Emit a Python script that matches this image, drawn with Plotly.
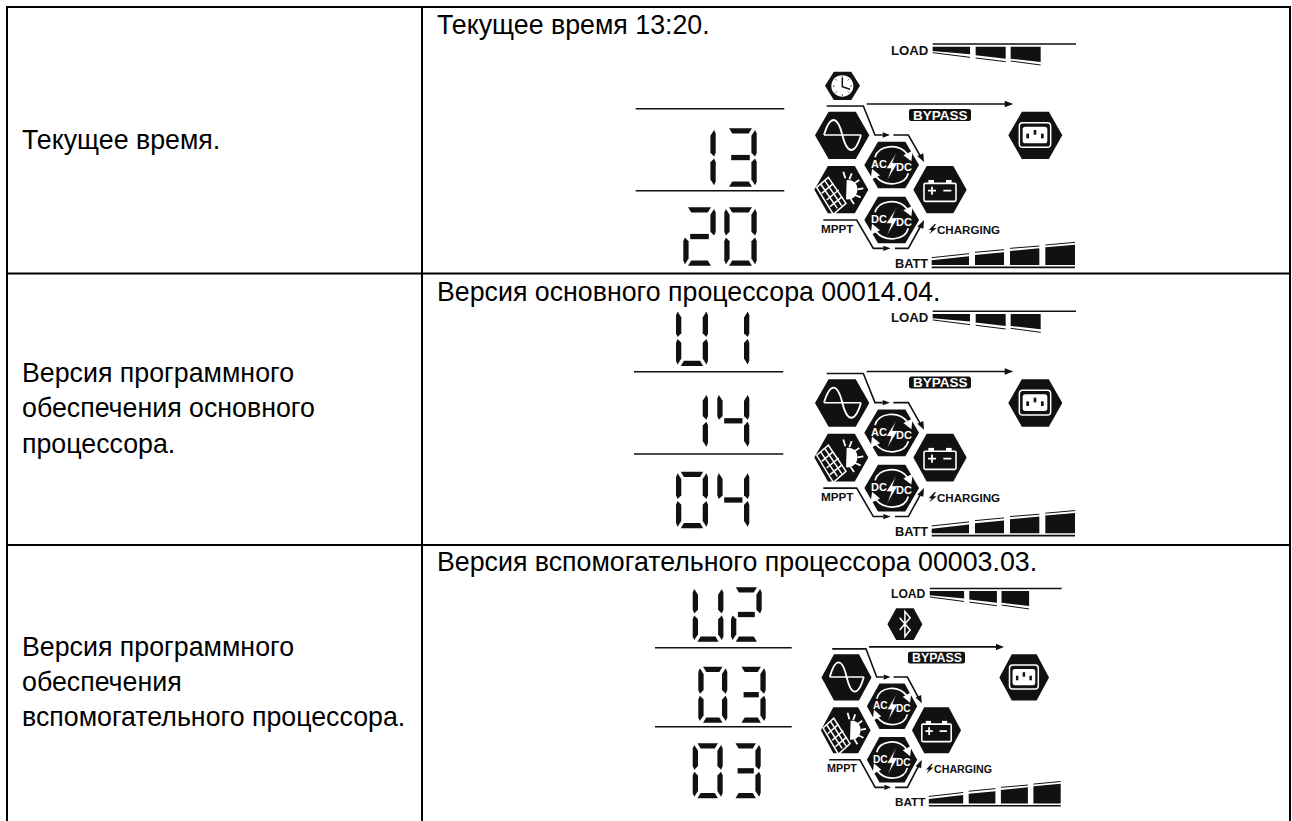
import re
import plotly.graph_objects as go

# ---- content ----
LEFT_CELLS = [
    ["Текущее время."],
    ["Версия программного", "обеспечения основного", "процессора."],
    ["Версия программного", "обеспечения", "вспомогательного процессора."],
]
RIGHT_CELLS = [
    "Текущее время 13:20.",
    "Версия основного процессора 00014.04.",
    "Версия вспомогательного процессора 00003.03.",
]
READOUTS = [
    ["", "13", "20"],
    ["U1", "14", "04"],
    ["U2", "03", "03"],
]
LABELS_LOAD = "LOAD"
LABELS_BATT = "BATT"
LABEL_BYPASS = "BYPASS"
LABEL_MPPT = "MPPT"
LABEL_CHARGING = "CHARGING"

# ---- layout constants (pixels) ----
W, H = 1292, 821
TX0, TX1, TX2 = 7, 422, 1290
TY = [7, 273.5, 545]
LEFT_BASE = [[148], [381, 416.5, 452], [655, 690, 725]]
RIGHT_BASE = [33, 300, 570]
FONT = "Liberation Sans, Arial, sans-serif"
CELL_SIZE = 26.75

# panel transforms: px = ax + sx*u/3, py = ay + sy*v/3
XF = [(600, 1, 0, 1), (600, 1, 267, 1.005), (623.7, 0.92, 545.7, 0.973)]
# digit rows: (y, h, [x of first box, x of second box], w)
DIGITS = [
    [None, (128.3, 58.5, [683.3, 724.3], 32.4), (207.3, 58.5, [683.3, 724.3], 32.4)],
    [(310, 56, [676, 717.3], 32), (393.3, 55, [676, 717.3], 32), (471.7, 56.6, [676, 717.3], 32)],
    [(587.3, 54.4, [692.7, 731], 30.7), (666.7, 56, [698.3, 736.7], 29), (743.3, 55, [692.7, 730.7], 30)],
]
RULES = [
    (635.7, 784.3, [108.7, 190.7]),
    (634, 783.3, [371.7, 454]),
    (655, 791.7, [647.7, 726.7]),
]

fig = go.Figure()
shapes = []
ann = []


def add_path(d, fill=None, line=None, lw=0):
    s = dict(type="path", path=d, xref="x", yref="y", layer="above",
             line=dict(color=line or "rgba(0,0,0,0)", width=lw))
    if fill:
        s["fillcolor"] = fill
    shapes.append(s)


def text(x, y, t, size, color="#000", bold=False, anchor="left", family=FONT):
    ann.append(dict(x=x, y=y, xref="x", yref="y", text=f"<b>{t}</b>" if bold else t,
                    showarrow=False, xanchor=anchor, yanchor="middle",
                    font=dict(family=family, size=size, color=color),
                    borderpad=0, borderwidth=0))


def mapper(xf):
    ax, sx, ay, sy = xf

    def m(d):
        vals = iter(re.findall(r"[A-Za-z]|-?\d+\.?\d*", d))
        out = []
        for tok in vals:
            if tok.isalpha():
                out.append(tok)
            else:
                y = next(vals)
                out.append(f"{ax + sx * float(tok) / 3:.2f},{ay + sy * float(y) / 3:.2f}")
        return " ".join(out)

    def pt(u, v):
        return ax + sx * u / 3, ay + sy * v / 3

    return m, pt


def hexpath(x0, x1, y0, y1):
    c = (x1 - x0) * 0.25
    ym = (y0 + y1) / 2
    return f"M{x0} {ym} L{x0 + c} {y0} L{x1 - c} {y0} L{x1} {ym} L{x1 - c} {y1} L{x0 + c} {y1} Z"


def converter(m, pt, dv, first, second, k):
    add_path(m(hexpath(793, 957, 425 + dv, 565 + dv)), fill="#111")
    # curved arrows
    add_path(m(f"M825 {472 + dv} C835 {435 + dv} 895 {428 + dv} 922 {462 + dv}"), line="#fff", lw=1.7)
    add_path(m(f"M934 {484 + dv} L910 {466 + dv} L938 {452 + dv} Z"), fill="#fff")
    add_path(m(f"M925 {520 + dv} C915 {558 + dv} 855 {562 + dv} 828 {530 + dv}"), line="#fff", lw=1.7)
    add_path(m(f"M816 {506 + dv} L840 {526 + dv} L812 {540 + dv} Z"), fill="#fff")
    # bolt
    add_path(m(f"M890 {456 + dv} L858 {506 + dv} L873 {506 + dv} L860 {544 + dv} L894 {488 + dv} L878 {488 + dv} Z"),
             fill="#fff", line="#111", lw=0.8)
    x, y = pt(837, 493 + dv)
    text(x, y, first, 11 * k, "#fff", True, "center")
    x, y = pt(913, 502 + dv)
    text(x, y, second, 11 * k, "#fff", True, "center")


def draw_panel(i):
    m, pt = mapper(XF[i])
    k = XF[i][1]
    ink = "#111"
    lw = 1.6
    # LOAD meter
    add_path(m("M998 132 L1428 132"), line=ink, lw=lw)
    add_path(m("M998 140 L1110 140 L1110 163 L998 153 Z"), fill=ink)
    add_path(m("M1127 140 L1217 140 L1217 176 L1127 166 Z"), fill=ink)
    add_path(m("M1232 140 L1322 140 L1322 186 L1232 176 Z"), fill=ink)
    add_path(m("M998 158 L1110 172"), line=ink, lw=1)
    add_path(m("M1127 174 L1217 185"), line=ink, lw=1)
    add_path(m("M1232 183 L1322 195"), line=ink, lw=1)
    x, y = pt(929, 150)
    text(x, y, LABELS_LOAD, 13.2 * k, ink, True, "center")
    # BATT meter
    add_path(m("M995 802 L1425 802"), line=ink, lw=lw)
    add_path(m("M995 781 L1107 769 L1107 795 L995 795 Z"), fill=ink)
    add_path(m("M1125 765 L1212 757 L1212 795 L1125 795 Z"), fill=ink)
    add_path(m("M1230 753 L1318 745 L1318 795 L1230 795 Z"), fill=ink)
    add_path(m("M1336 742 L1425 734 L1425 795 L1336 795 Z"), fill=ink)
    add_path(m("M995 773 L1107 761"), line=ink, lw=1)
    add_path(m("M1125 757 L1212 749"), line=ink, lw=1)
    add_path(m("M1230 745 L1318 738"), line=ink, lw=1)
    add_path(m("M1336 735 L1425 727"), line=ink, lw=1)
    x, y = pt(934, 790)
    text(x, y, LABELS_BATT, 12.8 * k, ink, True, "center")
    # bypass
    add_path(m("M800 312 L1218 312"), line=ink, lw=lw)
    add_path(m("M1214 302 L1240 312 L1214 322 Z"), fill=ink)
    add_path(m("M934 327 L1106 327 Q1113 327 1113 334 L1113 356 Q1113 363 1106 363 "
               "L934 363 Q927 363 927 356 L927 334 Q927 327 934 327 Z"), fill=ink)
    x, y = pt(1020, 345)
    text(x, y, LABEL_BYPASS, 13.5 * k, "#fff", True, "center")
    # flow lines
    add_path(m("M680 318 L790 318 L825 405 L848 405"), line=ink, lw=lw)
    add_path(m("M848 397 L870 405 L848 413 Z"), fill=ink)
    add_path(m("M880 405 L925 405 L962 470"), line=ink, lw=lw)
    add_path(m("M952 468 L972 486 L970 460 Z"), fill=ink)
    add_path(m("M670 660 L770 660 L820 745 L850 745"), line=ink, lw=lw)
    add_path(m("M850 737 L872 745 L850 753 Z"), fill=ink)
    add_path(m("M885 745 L925 745 L962 678"), line=ink, lw=lw)
    add_path(m("M952 680 L972 660 L970 686 Z"), fill=ink)
    # AC source
    add_path(m(hexpath(645, 808, 335, 477)), fill=ink)
    add_path(m("M672 405 L783 405"), line="#fff", lw=1.5)
    add_path(m("M672 405 C690 345 712 345 727 405 C742 465 765 465 783 405"), line="#fff", lw=1.8)
    # converters
    converter(m, pt, 0, "AC", "DC", k)
    converter(m, pt, 165, "DC", "DC", k)
    # solar
    add_path(m(hexpath(643, 805, 498, 640)), fill=ink)
    add_path(m("M740 540 C760 538 775 552 772 572 C770 590 755 600 738 598 Z"), fill="#fff")
    add_path(m("M650 562 L685 532 L738 610 L700 643 Z"), fill=ink, line="#fff", lw=1.5)
    for d in ["M662 552 L712 625", "M674 541 L725 617", "M665 580 L700 551", "M680 600 L716 570", "M690 620 L727 590"]:
        add_path(m(d), line="#fff", lw=1.5)
    for d in ["M730 515 L736 535", "M755 520 L748 538", "M778 540 L763 550", "M790 565 L772 568",
              "M782 592 L765 585", "M762 612 L752 597"]:
        add_path(m(d), line="#fff", lw=1.8)
    # battery
    add_path(m(hexpath(940, 1100, 498, 640)), fill=ink)
    add_path(m("M976 550 L1064 550 Q1068 550 1068 554 L1068 600 Q1068 604 1064 604 L976 604 "
               "Q972 604 972 600 L972 554 Q972 550 976 550 Z"), line="#fff", lw=1.6)
    add_path(m("M985 540 L1002 540 L1002 550 L985 550 Z"), fill="#fff")
    add_path(m("M1038 540 L1055 540 L1055 550 L1038 550 Z"), fill="#fff")
    add_path(m("M984 572 L1008 572 M996 560 L996 584 M1030 572 L1054 572"), line="#fff", lw=1.8)
    # output socket
    add_path(m(hexpath(1225, 1387, 335, 477)), fill=ink)
    add_path(m("M1268 368 L1342 368 Q1352 368 1352 378 L1352 432 Q1352 442 1342 442 L1268 442 "
               "Q1258 442 1258 432 L1258 378 Q1258 368 1268 368 Z"), line="#fff", lw=1.5)
    add_path(m("M1276 380 L1334 380 Q1342 380 1342 388 L1342 422 Q1342 430 1334 430 L1276 430 "
               "Q1268 430 1268 422 L1268 388 Q1268 380 1276 380 Z"), fill="#fff")
    for d in ["M1279 401 L1287 401 L1287 415 L1279 415 Z", "M1301 390 L1309 390 L1309 404 L1301 404 Z",
              "M1323 401 L1331 401 L1331 415 L1323 415 Z"]:
        add_path(m(d), fill=ink)
    # labels
    x, y = pt(713, 685)
    text(x, y, LABEL_MPPT, 11.7 * k, ink, True, "center")
    add_path(m("M1004 672 L986 690 L995 690 L988 702 L1010 684 L1000 684 L1008 672 Z"), fill=ink)
    x, y = pt(1106, 687)
    text(x, y, LABEL_CHARGING, 11.6 * k, ink, True, "center")
    # mode badge
    if i == 0:
        add_path(m(hexpath(675, 780, 215, 300)), fill=ink)
        add_path(m("M727 226 C746 226 760 240 760 258 C760 276 746 290 727 290 "
                   "C708 290 694 276 694 258 C694 240 708 226 727 226 Z"), fill="#fff")
        add_path(m("M727 234 L727 260 L750 268"), line=ink, lw=1.5)
        for d in ["M727 229 L727 233", "M727 283 L727 287", "M699 258 L703 258", "M751 258 L755 258",
                  "M707 238 L710 241", "M747 238 L744 241", "M707 278 L710 275", "M747 278 L744 275"]:
            add_path(m(d), line=ink, lw=1)
    if i == 2:
        add_path(m(hexpath(860, 974, 193, 291)), fill=ink)
        add_path(m("M900 222 L934 260 L917 280 L917 203 L934 222 L900 260"), line="#fff", lw=1.5)


SEGMENTS = {"0": "abcdef", "1": "bc", "2": "abged", "3": "abgcd", "4": "fgbc", "U": "fedcb"}


def segment(name, x, y, w, h, t=5.3):
    gap = 1.0
    mid = y + h / 2
    polys = {
        "a": [(x + t * 0.9, y), (x + w - t * 0.9, y), (x + w - t * 1.5, y + t), (x + t * 1.5, y + t)],
        "d": [(x + t * 0.9, y + h), (x + w - t * 0.9, y + h), (x + w - t * 1.5, y + h - t), (x + t * 1.5, y + h - t)],
        "g": [(x + t * 1.3, mid - t / 2), (x + w - t * 1.3, mid - t / 2), (x + w - t * 1.3, mid + t / 2), (x + t * 1.3, mid + t / 2)],
        "f": [(x + t * 0.3, y + t * 0.3), (x + t, y + t * 1.4), (x + t, mid - t * 0.9), (x + t * 0.3, mid - gap), (x, mid - t * 0.9), (x, y + t)],
        "e": [(x + t * 0.3, y + h - t * 0.3), (x + t, y + h - t * 1.4), (x + t, mid + t * 0.9), (x + t * 0.3, mid + gap), (x, mid + t * 0.9), (x, y + h - t)],
        "b": [(x + w - t * 0.3, y + t * 0.3), (x + w - t, y + t * 1.4), (x + w - t, mid - t * 0.9), (x + w - t * 0.3, mid - gap), (x + w, mid - t * 0.9), (x + w, y + t)],
        "c": [(x + w - t * 0.3, y + h - t * 0.3), (x + w - t, y + h - t * 1.4), (x + w - t, mid + t * 0.9), (x + w - t * 0.3, mid + gap), (x + w, mid + t * 0.9), (x + w, y + h - t)],
    }
    p = polys[name]
    return "M" + " L".join(f"{a:.2f},{b:.2f}" for a, b in p) + " Z"


def draw_digits(i):
    for readout, place in zip(READOUTS[i], DIGITS[i]):
        if place is None:
            continue
        y, h, xs, w = place
        for ch, x in zip(readout, xs):
            for s in SEGMENTS[ch]:
                add_path(segment(s, x, y, w, h), fill="#111")
    x0, x1, ys = RULES[i]
    for y in ys:
        shapes.append(dict(type="line", x0=x0, x1=x1, y0=y, y1=y, xref="x", yref="y",
                           layer="above", line=dict(color="#111", width=1.6)))


# table grid
for y in TY:
    shapes.append(dict(type="line", x0=TX0 - 1, x1=TX2 + 1, y0=y, y1=y, xref="x", yref="y",
                       line=dict(color="#000", width=2)))
for x in (TX0, TX1, TX2):
    shapes.append(dict(type="line", x0=x, x1=x, y0=TY[0], y1=H + 2, xref="x", yref="y",
                       line=dict(color="#000", width=2)))

for lines, bases in zip(LEFT_CELLS, LEFT_BASE):
    for t, b in zip(lines, bases):
        text(21.5, b - 8.5, t, CELL_SIZE)
for t, b in zip(RIGHT_CELLS, RIGHT_BASE):
    text(436.5, b - 8.5, t, CELL_SIZE)
for i in range(3):
    draw_panel(i)
    draw_digits(i)

fig.add_trace(go.Scatter(x=[0, W], y=[0, H], mode="markers", marker=dict(opacity=0), hoverinfo="skip", showlegend=False))
fig.update_layout(width=W, height=H, margin=dict(l=0, r=0, t=0, b=0), paper_bgcolor="#fff", plot_bgcolor="#fff",
                  shapes=shapes, annotations=ann, showlegend=False,
                  xaxis=dict(range=[0, W], visible=False, fixedrange=True),
                  yaxis=dict(range=[H, 0], visible=False, fixedrange=True))
fig.write_html("out.html", config={"displayModeBar": False},
               post_script="document.body.style.margin='0';")
